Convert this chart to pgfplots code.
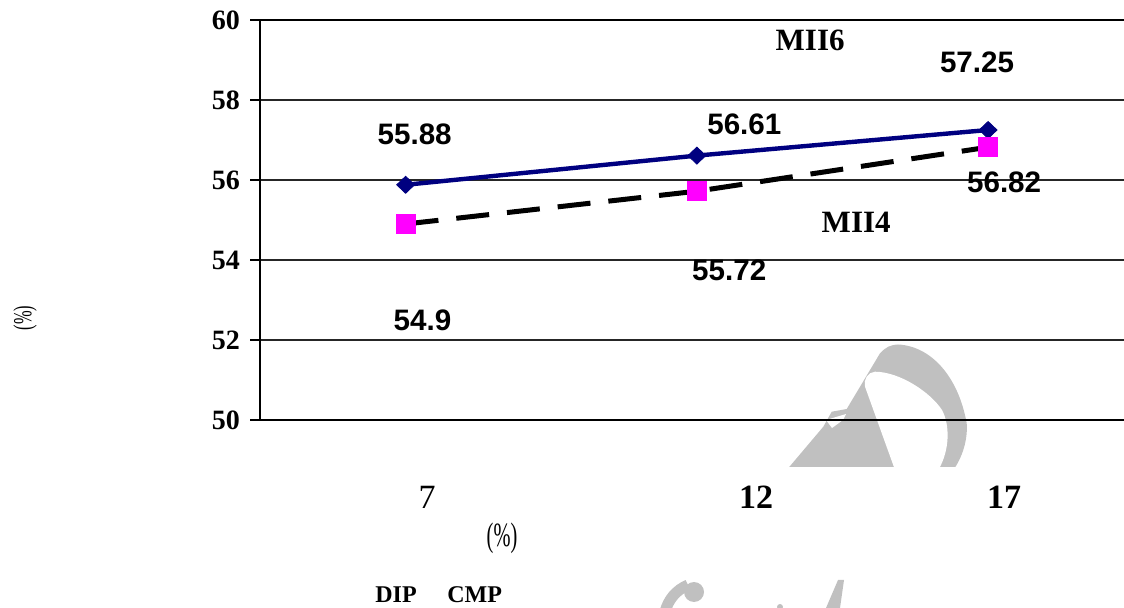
\documentclass[border=0pt]{standalone}
\usepackage{pgfplots}
\pgfplotsset{compat=1.18}
\usepackage{fontspec}
\setmainfont{Liberation Serif}
\newfontfamily\arialf{Liberation Sans}
\definecolor{navyline}{RGB}{0,0,128}
\definecolor{pinkmark}{RGB}{255,0,255}
\definecolor{wmgray}{RGB}{192,192,192}

\begin{document}
\begin{tikzpicture}
% background watermark pieces (pixel-like units, origin top left)
\begin{scope}[x=0.5pt,y=-0.5pt]
  \begin{scope}
    \clip (700,344) rectangle (1000,467);
    \fill[wmgray] (786.7,470) -- (823.3,426.7) -- (831.7,411.7) -- (846.7,409)
      -- (880,353.3) .. controls (886,347) and (890,345) .. (898,344.5)
      .. controls (930,346) and (958,375) .. (966.7,423.3)
      .. controls (968,440) and (962,458) .. (953.3,470) -- cycle;
    \fill[white] (895,470) -- (865,386.7) .. controls (863,380) and (868,372) .. (875,371.7)
      .. controls (900,372) and (930,392) .. (942,410)
      .. controls (950,425) and (950,450) .. (938.3,470) -- cycle;
    \fill[white] (826,420) -- (846,414) -- (843,420) -- (832,428) -- cycle;
  \end{scope}
  \begin{scope}
    \clip (600,578) rectangle (900,608);
    \fill[wmgray] (694,592) circle (10);
    \draw[wmgray,line width=5.5pt] (688,585) .. controls (676,590) and (668,600) .. (665,612);
    \fill[wmgray] (838,580) -- (844,580) -- (840,608) -- (826,608) -- cycle;
    \fill[wmgray] (780,607) circle (3);
  \end{scope}
\end{scope}

\begin{axis}[
  at={(130pt,-210pt)}, anchor=south west,
  scale only axis, width=432pt, height=200pt,
  xmin=-0.5, xmax=2.4666, ymin=50, ymax=60,
  ytick={50,52,...,60}, xtick=\empty,
  axis x line=bottom, axis y line=left,
  axis line style={line width=1pt,-},
  ymajorgrids, major grid style={line width=0.6pt,black!85},
  tick align=outside, major tick length=5pt,
  ytick style={line width=0.6pt,black},
  yticklabel style={font=\fontsize{14}{16}\selectfont\bfseries, xshift=-1.5pt},
  /pgf/number format/assume math mode=true,
  clip=false,
]
\draw[line width=1pt] (axis cs:-0.5,60) -- (axis cs:2.4666,60);

% MII6
\addplot[navyline, line width=2.2pt, mark=diamond*, mark size=4.25pt,
  mark options={solid, xscale=1.4, line width=0.4pt, fill=navyline}]
  coordinates {(0,55.88) (1,56.61) (2,57.25)};
% MII4
\addplot[black, line width=2.5pt, dash pattern=on 16.5pt off 9pt,
  mark=square*, mark size=4.75pt,
  mark options={solid, draw=pinkmark, fill=pinkmark, line width=0pt}]
  coordinates {(0,54.9) (1,55.72) (2,56.82)};

\tikzset{vlab/.style={font=\arialf\bfseries\fontsize{14.8}{17}\selectfont, inner sep=0pt}}
\node[vlab] at (axis cs:0.031,57.15) {55.88};
\node[vlab] at (axis cs:1.163,57.4) {56.61};
\node[vlab] at (axis cs:1.962,58.95) {57.25};
\node[vlab] at (axis cs:0.058,52.5) {54.9};
\node[vlab] at (axis cs:1.111,53.75) {55.72};
\node[vlab] at (axis cs:2.055,55.95) {56.82};

\node[font=\fontsize{15.5}{17}\selectfont\bfseries, inner sep=0pt] at (axis cs:1.389,59.5) {MII6};
\node[font=\fontsize{15.5}{17}\selectfont\bfseries, inner sep=0pt] at (axis cs:1.547,54.95) {MII4};
\end{axis}

% category labels and axis titles
\begin{scope}[x=0.5pt,y=-0.5pt]
  \node[font=\fontsize{17}{19}\selectfont, inner sep=0pt] at (427,497) {7};
  \node[font=\fontsize{17}{19}\selectfont\bfseries, inner sep=0pt] at (756,497) {12};
  \node[font=\fontsize{17}{19}\selectfont\bfseries, inner sep=0pt] at (1004,497) {17};
  \node[font=\fontsize{17}{19}\selectfont, inner sep=0pt, xscale=0.6] at (502,538) {(\%)};
  \node[font=\fontsize{13}{15}\selectfont, inner sep=0pt, rotate=90, xscale=0.63] at (25,318) {(\%)};
  \node[font=\fontsize{12}{14}\selectfont\bfseries, inner sep=0pt, anchor=base west] at (375,603) {DIP};
  \node[font=\fontsize{12}{14}\selectfont\bfseries, inner sep=0pt, anchor=base west] at (447,603) {CMP};
  \pgfresetboundingbox
  \useasboundingbox (0,0) rectangle (1124,608);
\end{scope}
\end{tikzpicture}
\end{document}
